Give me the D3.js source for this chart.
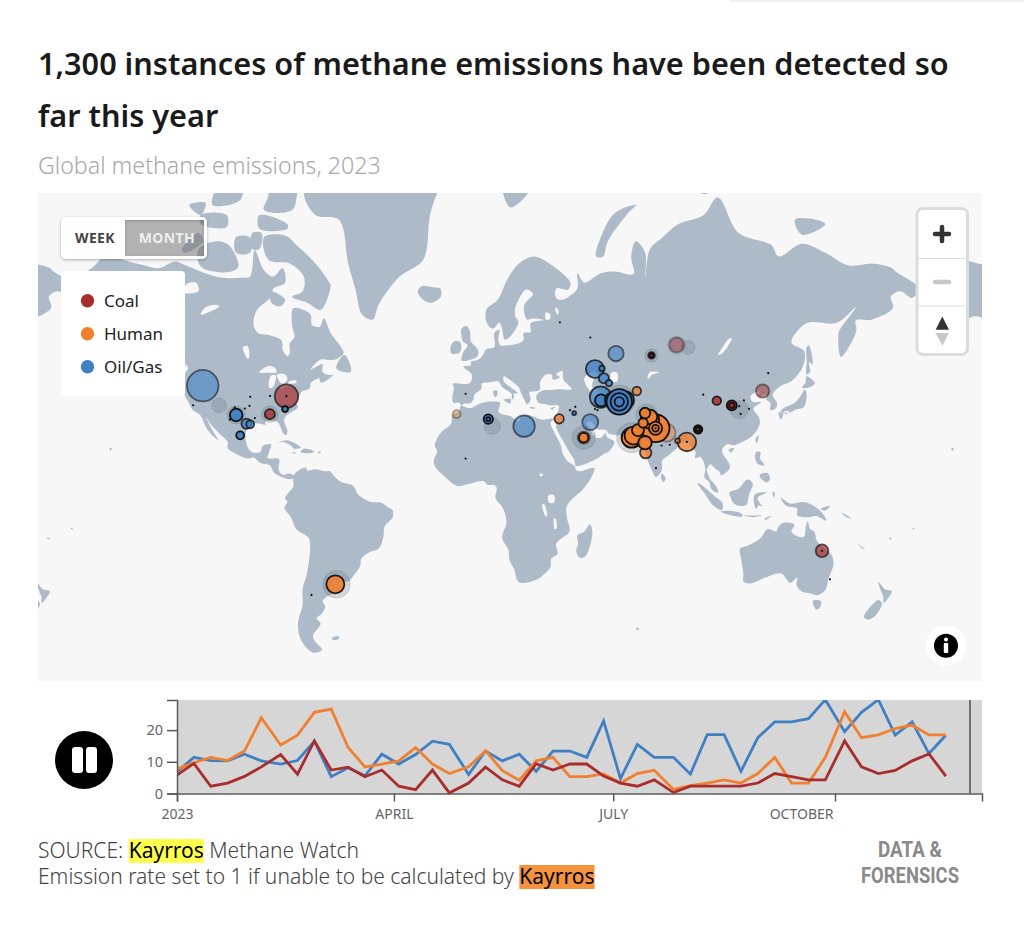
<!DOCTYPE html>
<html>
<head>
<meta charset="utf-8">
<script src="https://cdnjs.cloudflare.com/ajax/libs/d3/7.8.5/d3.min.js"></script>
<style>
  html, body { margin: 0; padding: 0; background: #fff; }
  svg { display: block; }
  text { font-family: "Noto Sans", sans-serif; }
</style>
</head>
<body>
<div id="chart"></div>
<script>
// weekly counts
const weekDay = [0,7,14,21,28,35,43,50,57,64,71,78,85,92,99,106,113,121,128,135,142,149,156,163,170,177,184,191,198,206,213,220,227,234,241,248,255,262,269,277,284,291,298,305,312,319];
const oilGasWeekly = [6.8,11.4,10.4,10.3,12.4,10.3,9.3,10.4,16.5,5.3,8.1,5.6,12.4,9.3,12.3,16.5,15.5,6,13.4,10.3,12.4,7,13.4,13.4,11.4,22.9,4.7,15.5,11.4,11.4,6.1,18.6,18.6,7,17.6,22.6,22.6,23.6,29.6,19.5,25.6,29.6,18.4,22.6,12.6,18.4];
const humanWeekly = [7.7,9.7,11.4,10.4,13.4,23.9,15.3,18.4,25.6,26.6,14.5,8.4,9.3,10.3,14.5,9.3,6.3,8.4,13.5,7.2,4.2,10.3,11.4,5.3,5.3,6.2,3.3,6.3,7.3,1.3,2.5,3.3,4.3,3.3,6.3,11.4,3.3,3.3,11.4,25.8,17.6,18.5,20.5,21.6,18.5,18.5];
const coalWeekly = [5.8,9.5,2.3,3.3,5.4,8.4,12.3,6.1,16.6,7.4,8.3,5.3,7.4,2.3,1.2,7.4,0.2,3.3,8.3,4.3,2.3,9.4,7.4,9.3,9.3,5.5,3.3,2.3,4.3,0.3,2.3,2.3,2.3,2.3,3.3,6.3,5.3,4.3,4.3,16.6,8.4,6.3,7.3,10.3,12.5,5.5];
const yTicks = [0, 10, 20];
const xTickMonths = [0, 3, 6, 9];
const xTickLabels = ["2023", "APRIL", "JULY", "OCTOBER"];
const legendNames = ["Coal", "Human", "Oil/Gas"];

// detections: lon, lat, rate, weeks since detection
const coalEvents = [[-80.4,39.2,113,1.5],[-87.5,33,21,1],[75.7,51.4,9,1],[75.7,51.4,3,0],[86.4,54.1,44,3],[103.6,37.7,15,0.5],[110,36.1,21,0],[110,36.1,6,0],[123.2,40.9,37,2.5],[95.6,27.4,15,0],[95.6,27.4,7,0],[95.6,27.4,3,0],[148.6,-22.8,33,1.5]];
const humanEvents = [[-7.6,33,13,3],[36.2,31.3,18,1],[46.7,24.2,30,2],[46.7,24.2,18,0],[69.4,40.9,15,1],[90.8,22.5,71,1],[86.8,23,4.4,1],[82.1,26.1,67,3],[67.2,24.2,83,0],[68,25,67,0],[73.2,18.2,27,1],[77.4,27.8,160,0],[72.9,22.2,37,0],[69.9,27.1,30,0],[75,31,70,0],[75,32,44,0],[72.9,33.4,23,0],[72.1,29.8,18,0],[77.4,27.8,36,0],[77.4,27.8,9,0],[-59.5,-35.3,67,0.3]];
const oilGasEvents = [[-116.2,42.6,204,2],[-81,34.8,7,0],[-101.9,32.7,33,0],[-97.5,29.5,21,1],[-95.9,29.3,13,1],[-100.2,25.1,13,0],[5.9,31.2,18,0],[5.9,31.2,3.3,0],[21.2,28.6,95,2],[42.6,33.4,3.3,1],[49.5,30.1,53,2],[60.5,51.9,49,2],[51.5,47.6,67,1],[54.5,47.8,6,1],[55.3,44.9,21,1],[57.5,43.4,9,1],[53.9,38.9,95,1],[54.1,37.8,30,0],[59.2,37.9,53,0],[64.3,37.9,67,0],[61.9,37.3,133,0],[61.9,37.3,63,0],[61.9,37.3,18,0]];
const fadedEvents = [[-109.2,36.1,44],[-101.9,32.7,67],[-87.5,33,57],[7.6,28.6,57],[46.7,24.2,113],[67.2,24.2,186],[73.6,32.8,95],[75.7,51.4,37],[86.4,54.1,67],[91.4,53.5,40],[113.2,34.6,67],[-59,-35.3,155],[62.2,37.9,186]];
// rate set to 1 by the source
const unknownRateLon = [-120.3,-95.9,-87.4,-96.2,-93.9,-3.8,-3.8,-104.6,-102.5,-98.2,36.5,49.5,40.8,43.1,51.5,52.6,97.8,115.2,113.2,113.8,117.4,125.6,80,83.5,77.6,-69.7,152,-80.4,148.6,90.8,77.4];
const unknownRateLat = [36.1,39,39.3,35.9,31.6,40,15.8,31,35.4,35,59.4,55.9,34.4,35.6,34.8,34.4,39.7,37.8,35.8,33.1,34.9,46.4,21.1,21.4,11.8,-38.9,-33.5,39.2,-22.8,22.5,27.8];

// land outlines, lon/lat
const northAmerica = [[-168,65.6],[-164,66.5],[-162,66.2],[-166.5,68.3],[-163,69.5],[-156.5,71.3],[-150,70.5],[-141,69.7],[-135,69.3],[-128,70.3],[-124,69.8],[-115,68.5],[-108,67.8],[-100,67.8],[-96,68],[-94,71.8],[-90,69],[-86,68],[-82,69.3],[-81,67],[-86,66],[-87,64.5],[-93,62],[-94.5,59],[-92.5,57],[-88,56.5],[-82.5,55.2],[-82,52.8],[-80,51.2],[-79,52],[-79,54.5],[-77,56],[-78,58.7],[-77.5,62.3],[-73,62],[-70,61],[-69.5,58.8],[-66,58.5],[-64.5,60.3],[-61.5,57],[-57,53.5],[-56,52],[-60,50.2],[-66,50.2],[-70,47.5],[-65,49],[-65,48],[-64.8,46.5],[-61,45.8],[-60,46],[-65.5,43.5],[-66.5,45],[-67,44.8],[-70,43.5],[-70.5,41.7],[-74,40.6],[-75.5,38],[-76,36.9],[-75.6,35.3],[-78,33.9],[-81,32],[-81.4,30.5],[-80,26.8],[-80.5,25.2],[-81.8,26],[-82.8,28],[-84,30],[-86,30.4],[-89.5,30.2],[-89.3,29.1],[-91.5,29.5],[-94,29.6],[-97.3,27.5],[-97.7,22.5],[-96,19],[-94.5,18.2],[-91.5,18.6],[-90.5,21],[-87,21.5],[-87.8,18.5],[-88.5,16],[-84,15.8],[-83.4,15],[-83.7,11],[-82,9],[-79.5,9.6],[-77.3,8.6],[-78,7.3],[-80.3,7.4],[-83,8.3],[-85.8,10],[-87.5,13],[-91.5,14],[-94.5,16.2],[-97,15.8],[-101.5,17.5],[-105.5,20],[-105.5,22.5],[-109,25.7],[-112.5,29],[-114.8,31.8],[-112,27],[-109.5,23.2],[-112,25],[-115,28.5],[-117.2,32.6],[-120.5,34.5],[-122.5,37.5],[-124.3,40.3],[-124,46],[-122.5,48],[-125,50],[-128,52],[-130.3,54.8],[-133.5,58],[-138,59.2],[-146,60.7],[-151.5,59.3],[-153.5,59],[-158,56.5],[-164,54.6],[-158.5,58.5],[-162,59],[-165.5,61.5],[-164,63.2],[-161,64.5],[-166,64.6]];
const southAmerica = [[-77.3,8.6],[-75.5,10.7],[-72,12],[-71.5,10.8],[-68,11.4],[-64,10.5],[-61.8,10.5],[-60,8.4],[-57,6],[-52,4.5],[-50,1],[-48,-0.7],[-44,-2.6],[-40,-2.8],[-37,-4.8],[-35,-6],[-35,-9],[-38.5,-13],[-39,-17.5],[-41,-22],[-44.5,-23.2],[-48.5,-26],[-48.8,-28.5],[-52,-32.5],[-53.5,-34],[-57,-34.5],[-58.4,-34],[-57,-36.5],[-58,-38.3],[-62,-39],[-65,-41],[-63.8,-42.5],[-65.5,-45],[-67.5,-46.3],[-65.8,-47.8],[-69,-51],[-68.4,-52.5],[-65.2,-54.8],[-69,-55.5],[-74,-52.5],[-75.5,-48],[-73.5,-42],[-73.5,-37],[-71.5,-31],[-70.3,-20],[-71,-17.5],[-76.2,-14],[-78.5,-9],[-81.3,-5],[-80,-2.5],[-81,-1],[-79.5,1.5],[-77.5,4],[-77.5,7]];
const africa = [[-5.9,35.8],[-2,35.1],[3,36.9],[10,37.3],[11,36.9],[10.2,34],[11,33.2],[15.2,32.3],[19,30.3],[20,32.5],[23,32.7],[29,31],[32.3,31.3],[34.2,31.3],[32.5,29.9],[34,26.5],[37,21],[37.5,18.5],[39.5,15],[43,12.5],[43.2,11.5],[44.5,10.5],[51.2,11.9],[50,8],[46,2.5],[41,-2],[39.3,-5],[39.5,-9],[40.6,-15],[37,-18],[34.9,-20],[35.5,-24],[32.8,-26],[32.5,-29],[30,-31.5],[26,-33.9],[20,-34.8],[18.4,-34],[17,-30],[15,-26.5],[14.5,-22.5],[11.8,-17.5],[13.7,-11],[12,-5],[9,-1],[9.5,3.5],[8.5,4.7],[5.5,4.8],[4,6.3],[-3,5],[-7.5,4.3],[-13,8.5],[-16.7,12.2],[-17.5,14.7],[-16,19],[-17,21],[-14.5,26],[-10,29.5],[-9.5,32.5],[-6.5,34.2]];
const eurasia = [[-5.5,36],[-6.5,37],[-9,37],[-9.5,38.7],[-8.8,42],[-9.2,43.2],[-2,43.4],[-1.2,46],[-4.7,48.3],[-1.5,48.7],[-1.5,49.6],[1.5,50.2],[3.5,51.4],[5,53],[8.5,53.6],[8.5,57],[10.6,57.7],[10.2,55.5],[11,54],[14,54],[19,54.5],[21,55.3],[21,57],[24,57.2],[24,59.2],[29.5,59.9],[25,60.2],[22.5,60],[21.5,61],[21.3,63],[25,65],[22,65.8],[17.5,62.5],[17.5,60.6],[18.8,59.5],[16.5,57],[14.5,55.8],[13,55.4],[11.5,58.5],[10.5,59.3],[8,58],[5.5,59],[5,62],[10,64],[14,67.5],[19,70],[25.5,71],[31,70.2],[41,67],[40,65.8],[35,66],[35,64.2],[38,64],[40.5,64.6],[44,66],[44,68.5],[47,67],[54,68.5],[60,68.8],[68,68.4],[67,71],[69,73],[73,71.5],[73,68],[75,72],[80.5,73.5],[87,75],[98,76],[104,77.7],[113,74],[127,72.5],[130,71],[140,72.7],[150,71.5],[160,69.7],[170,70],[178,69.4],[180,68.8],[190,66],[187,64.3],[182,65.5],[178,64.5],[179,62.4],[170,60],[163,59.8],[163.3,58],[162.5,56.2],[156.7,51],[155.5,56],[156,57.5],[163,62.5],[155,59.3],[142,59.2],[135.5,54.7],[141,52.5],[140.5,48.5],[135.5,44],[130.8,42.5],[127.5,39.7],[129.3,37],[129,35.2],[126.5,34.5],[126.5,37],[124.8,38],[125,39.7],[121.5,39],[121.7,40.8],[118,39.2],[119,37.3],[122.5,37.2],[119.3,35],[121.8,31.5],[121.8,29],[119,25],[114,22.3],[110.5,21.2],[108,21.6],[105.8,19],[109,13.5],[109,11.5],[105.3,8.8],[105,10],[102.5,12],[100.9,13.4],[99.3,11],[100,9],[100.5,7.5],[103.5,4],[104.2,1.4],[101.5,2.7],[100.3,6],[98.3,8],[98.7,11.5],[97.7,15],[96.5,16.5],[94.3,16],[94.5,18.5],[92.3,20.8],[91,22.5],[88,21.7],[86.5,20],[82.3,16.6],[80.2,15],[80.2,13],[79.8,10.3],[77.5,8.1],[76,10.5],[74.5,14],[72.8,19],[72.7,21],[70.3,20.9],[69,22.3],[70.3,23],[68,23.8],[66.7,25.3],[61.5,25.1],[57.3,25.8],[56.5,27],[52.6,27.5],[50,30.2],[48,30],[48.5,28.5],[50,26.5],[51,24.8],[51.5,26],[51.7,24.3],[54,24.2],[56.2,26],[56.5,24.5],[59.8,22.5],[57.8,19],[55,17.5],[52,15.6],[45,12.8],[43.3,12.8],[42.7,15],[39,21],[35,28],[34.9,29.5],[34.2,31.3],[35.5,33.5],[36,36],[32.5,36.1],[30.5,36.5],[27.3,37],[26.5,39.5],[29,41],[31.5,41.2],[36,41.5],[41.5,41.5],[38,44.5],[37.5,47],[35,46],[36.5,45.2],[33.5,44.5],[33,46],[30.5,46],[28,43.5],[28,41.5],[26,40.8],[23.5,40.5],[24,38],[22.5,36.5],[21,38.5],[19.5,41],[19,42],[14,45],[12.5,45.5],[12.5,44],[16,41.8],[18.5,40.2],[16.8,40],[17,39],[16,38],[15.8,40],[12,42],[10,44],[7,43.7],[3.2,43.3],[3,41.7],[0,39.7],[-0.5,38],[-2,36.8],[-4.5,36.7]];
const australia = [[113.5,-22],[114,-26],[115,-31.5],[115,-34.3],[118,-35],[124,-33],[129,-31.5],[131.5,-31.5],[135,-34.8],[138,-33],[137.7,-35.5],[140,-37.8],[144,-38.5],[146.4,-39],[150,-37.3],[151.3,-33.5],[153.5,-28],[153,-25],[150.7,-22.5],[146.5,-19],[145.3,-15],[143.5,-14],[142.5,-10.8],[141.6,-13],[141,-17],[139,-17.3],[135.5,-15],[136.8,-12.2],[132.5,-11.3],[130,-13],[129,-15],[125.5,-14],[122,-18],[117,-20.7]];
const greenland = [[-73,78.3],[-68,76],[-58,75.5],[-54,70],[-51,66],[-48,61],[-43.5,60],[-41,63],[-32,68],[-22,70.5],[-19,76],[-12,81.5],[-30,83.5],[-50,82.5],[-62,81.5]];
const islands = [
  [[-61.5,66.5],[-64,63],[-66,62],[-72,63.5],[-78,64.5],[-73.5,65.5],[-73,68],[-79,70],[-88,70.5],[-90,73.5],[-81,73.7],[-76,72.5],[-68,70],[-62,67]],
  [[-117,69.5],[-105,68.7],[-101,69.5],[-105,72.5],[-110,73],[-118,72]],
  [[-125,72],[-118,74],[-116,73],[-124,71.5]],
  [[-90,76.5],[-78,76.5],[-75,78.5],[-65,81],[-62,82.5],[-75,83],[-90,81.5],[-88,78]],
  [[-95,81],[-88,81],[-87,79],[-93,78.5]],
  [[-110,78.5],[-100,79],[-100,77.5],[-112,77]],
  [[-122,77],[-115,77.2],[-117,76]],
  [[-92,76],[-80,75],[-80,74.5],[-92,74.5]],
  [[-117,76],[-106,76],[-106,74.7],[-117,75]],
  [[-102,73.5],[-96,73.5],[-96,71.5],[-102,71.5]],
  [[-95,74],[-91,74],[-92,72],[-95,72]],
  [[-87,65.5],[-81,64],[-83,62.7],[-87,63.5]],
  [[-59,47.7],[-53,46.7],[-53,48.5],[-55.5,51.5],[-57.5,50.5]],
  [[-128.5,50.7],[-125,50],[-123.4,48.4],[-125.5,48.8]],
  [[-85,21.9],[-80,23.2],[-74.2,20.2],[-77.5,19.9],[-78,20.7],[-82,22.5]],
  [[-74.4,18.5],[-72.8,19.9],[-68.4,18.6],[-71,18]],
  [[-78.3,18.4],[-76.3,18.2],[-77,17.8]],
  [[-67.2,18.5],[-65.6,18.4],[-66.5,17.9]],
  [[-24.3,65.5],[-22,64],[-18.7,63.4],[-14.5,64.5],[-14.6,66],[-18,66.2],[-22.5,66.4]],
  [[-61,-51.8],[-58,-51.3],[-58,-52],[-60.5,-52.3]],
  [[49.3,-12],[50.4,-15.5],[47.5,-24.8],[45,-25.5],[43.5,-23],[44.3,-20],[44,-16.5],[47,-15]],
  [[-5.5,50],[1.3,51.2],[1.5,52.8],[-1.5,55],[-2,57.5],[-3.5,58.6],[-5.5,58],[-5,55],[-3,54],[-5,52]],
  [[-10,52],[-6.2,52.2],[-6,54.7],[-8.5,55],[-10,54]],
  [[12,79],[20,80.3],[25,79],[18,77],[15,76.8]],
  [[52,71],[55,71],[57,73],[65,76],[69,77],[60,76.2],[54,73.5]],
  [[92,79.5],[100,81],[105,79],[98,78]],
  [[137,75.5],[146,75.5],[150,75],[140,73.8]],
  [[12.5,38],[15.5,38.2],[15.2,36.7]],
  [[8.2,41],[9.7,41],[9.5,39.2],[8.5,39]],
  [[23.6,35.5],[26.3,35.2],[24.5,34.9]],
  [[32.4,35],[34.5,35.6],[33.5,34.7]],
  [[80,9.6],[81.8,7.5],[80.6,6],[79.8,7.5]],
  [[108.7,19.5],[111,20],[109.5,18.2]],
  [[121.5,25.2],[120.8,22],[120.1,23.5]],
  [[130.9,34],[135,33.6],[136.8,34.5],[140.8,35.5],[142,39.5],[141.2,41.4],[140,40],[137,37],[133,35.5]],
  [[130,33.5],[132,33.5],[131,31]],
  [[132.5,34],[134.5,34],[133,33]],
  [[140,42],[143,42],[145.5,43.4],[142,45.5],[141.5,43.5]],
  [[142,46],[143.5,46.8],[143,49.5],[144.5,49],[143,54],[142,53.5],[142,50]],
  [[120.5,18.5],[122.3,18.3],[122,16],[124,13],[121,13.7],[120,16]],
  [[122,9],[125.5,9.7],[126.3,7],[125,5.8],[122.5,7.5]],
  [[95.3,5.5],[98,4],[103.5,-0.8],[106,-3],[105.8,-6],[102,-4],[98.5,1]],
  [[105.3,-6.6],[111,-6.5],[114.5,-7.8],[114.4,-8.7],[108,-7.8]],
  [[109,1.5],[113,3.2],[116.7,7],[119,5.2],[117.5,1],[116,-4],[111,-3.3],[109.5,-0.5]],
  [[120,0.8],[125,1.5],[121,-0.8],[123,-4.5],[121.5,-4],[120.5,-5.5],[119.5,-3]],
  [[115,-8.2],[119,-8.3],[123,-8.2],[119,-9]],
  [[124,-9.7],[127,-8.4],[124.5,-10.2]],
  [[127.5,2],[128.5,1],[128,-0.7],[127.5,0.5]],
  [[131,-0.8],[135,-3.2],[141,-2.6],[147.5,-6],[150.5,-10.5],[146,-8.5],[143,-9],[138,-8.3],[138,-5.5],[133,-4]],
  [[148,-5.5],[152,-4.2],[150,-6.2]],
  [[157,-7],[161,-9.5],[159,-9]],
  [[164,-20],[167,-22.3],[166,-22]],
  [[177.3,-17.5],[178.6,-18],[177.5,-18.2]],
  [[144.7,-40.8],[148.2,-41],[147.5,-43.2],[146,-43.5]],
  [[172.7,-34.5],[175.5,-37],[178.4,-37.7],[176.8,-40],[175,-41.5],[174.8,-39.5],[174,-38]],
  [[172.7,-40.6],[174.2,-41.8],[170.8,-45.9],[168,-46.6],[166.5,-45.8]],
  [[-156,20.2],[-155,19.8],[-155.7,19]],
  [[69,-49],[70.5,-49.2],[69.5,-49.7]],
  [[-172.8,-13.5],[-171.5,-14],[-172.5,-14]]
];
const lakes = [
  [[-92,46.7],[-88,48.5],[-85,47.8],[-84.7,46.6],[-87,46.5]],
  [[-87.8,42],[-86.3,42],[-85,45.8],[-87,45.7]],
  [[-84.5,46],[-81,46],[-80,44.6],[-81.8,43.2],[-83.5,44]],
  [[-83.4,41.6],[-79,42.8],[-79,43],[-83,42.2]],
  [[-79.7,43.3],[-76.2,43.5],[-76.3,44.2],[-79.3,43.9]],
  [[-99,53.5],[-97,53.8],[-96.3,51],[-97,50.5]],
  [[-117,61],[-109,62.7],[-111,63],[-115,62.5]],
  [[-125,65.3],[-118,65.5],[-119,67],[-123,66.8]],
  [[47,45],[51,47],[53,45.5],[51,44.5],[50.5,42],[53,41],[54,37],[50.5,37.2],[49,38],[49.5,40.5],[47.5,43]],
  [[58.5,46.5],[61,46.5],[61,44],[58.5,44]],
  [[74,45],[75,46.7],[79,46.6],[76,46],[74.5,44.8]],
  [[104,51.5],[106,52],[110,55.7],[109,55.7],[105,52.5]],
  [[31.6,0.3],[34,0.3],[34,-2.8],[31.8,-2.8]],
  [[29,-3.5],[29.8,-3.5],[31,-8.5],[30.3,-8.5]],
  [[34,-9.5],[34.8,-10],[35,-14],[34.3,-14]],
  [[28,9.5],[29,9.5],[29,8.5],[28,8.5]],
  [[30.5,61.5],[32.5,61],[32,60],[30.5,60]],
  [[34.7,62.5],[36,61.8],[35.5,61],[34.8,61.5]]
];

const coalColor = "#a92d2d", humanColor = "#f08030", oilGasColor = "#3f80c4";
const landColor = "#adbbc9", seaColor = "#f7f7f7";

const svg = d3.select("#chart").append("svg").attr("width", 1024).attr("height", 940);

// header
svg.append("rect").attr("x", 730).attr("y", 0).attr("width", 294).attr("height", 2).attr("fill", "#f3f3f3");
svg.append("text").attr("x", 38).attr("y", 75).attr("font-size", 30.65).attr("font-weight", 600).attr("fill", "#1a1a1a")
    .text("1,300 instances of methane emissions have been detected so");
svg.append("text").attr("x", 38).attr("y", 127).attr("font-size", 30.65).attr("font-weight", 600).attr("fill", "#1a1a1a")
    .text("far this year");
svg.append("text").attr("x", 38).attr("y", 174).attr("font-size", 23.2).attr("font-weight", 300).attr("fill", "#a8a8a8")
    .text("Global methane emissions, 2023");

// map
const map = { x: 38, y: 193, w: 944, h: 488 };
svg.append("clipPath").attr("id", "mapClip").append("rect")
    .attr("x", map.x).attr("y", map.y).attr("width", map.w).attr("height", map.h);
const mapGroup = svg.append("g").attr("clip-path", "url(#mapClip)");
mapGroup.append("rect").attr("x", map.x).attr("y", map.y).attr("width", map.w).attr("height", map.h).attr("fill", seaColor);

const projection = d3.geoMercator().scale(134).translate([474.5, 496]);
const [originX, originY] = projection.translate();
const toRad = Math.PI / 180;
// raw mercator for the coast: the eastern tip of Russia runs past 180
const landPoint = ([lon, lat]) => {
    const p = d3.geoMercatorRaw(lon * toRad, lat * toRad);
    return [originX + projection.scale() * p[0], originY - projection.scale() * p[1]];
};
const coast = d3.line().curve(d3.curveCatmullRomClosed.alpha(0.5));
const ringsPath = rings => rings.map(r => coast(r.map(landPoint))).join("");

const landRings = [northAmerica, southAmerica, africa, eurasia, australia, greenland].concat(islands);
const worldWidth = 2 * Math.PI * projection.scale();

[-worldWidth, 0, worldWidth].forEach(dx => {
    const copy = mapGroup.append("g").attr("transform", `translate(${dx},0)`);
    copy.append("path").attr("d", ringsPath(landRings)).attr("fill", landColor);
    copy.append("path").attr("d", ringsPath(lakes)).attr("fill", seaColor);
});

// bubbles
const rScale = d3.scaleSqrt().domain([0, 200]).range([0, 15.6]);
const fillFade = d3.scaleLinear().domain([0, 3]).range([0.95, 0.4]);
const strokeFade = d3.scaleLinear().domain([0, 3]).range([1, 0.35]);

mapGroup.append("g").selectAll("circle")
    .data(fadedEvents)
    .enter()
    .append("circle")
    .attr("cx", d => projection(d)[0])
    .attr("cy", d => projection(d)[1])
    .attr("r", d => rScale(d[2]))
    .attr("fill", "#5c6670")
    .attr("fill-opacity", 0.22)
    .attr("stroke", "#5c6670")
    .attr("stroke-opacity", 0.2);

const allEvents = []
    .concat(coalEvents.map(d => ({ v: d, color: coalColor })))
    .concat(humanEvents.map(d => ({ v: d, color: humanColor })))
    .concat(oilGasEvents.map(d => ({ v: d, color: oilGasColor })));
// oldest first
allEvents.sort((a, b) => (b.v[3] - a.v[3]));

mapGroup.append("g").selectAll("circle")
    .data(allEvents)
    .enter()
    .append("circle")
    .attr("cx", d => projection(d.v)[0])
    .attr("cy", d => projection(d.v)[1])
    .attr("r", d => rScale(d.v[2]))
    .attr("fill", d => d.color)
    .attr("fill-opacity", d => fillFade(d.v[3]))
    .attr("stroke", "#111")
    .attr("stroke-width", 1.8)
    .attr("stroke-opacity", d => strokeFade(d.v[3]));

mapGroup.append("g").selectAll("circle")
    .data(unknownRateLon)
    .enter()
    .append("circle")
    .attr("cx", (d, i) => projection([d, unknownRateLat[i]])[0])
    .attr("cy", (d, i) => projection([d, unknownRateLat[i]])[1])
    .attr("r", rScale(1))
    .attr("fill", "#111");

// week / month switch, the map shows through the month half
svg.append("filter").attr("id", "soft").attr("x", "-20%").attr("y", "-20%").attr("width", "140%").attr("height", "140%")
    .append("feDropShadow").attr("dx", 0).attr("dy", 1).attr("stdDeviation", 1.5).attr("flood-color", "#000").attr("flood-opacity", 0.3);
const toggle = svg.append("g");
toggle.append("path")
    .attr("d", "M66 217h136a5 5 0 0 1 5 5v32a5 5 0 0 1 -5 5h-136a5 5 0 0 1 -5 -5v-32a5 5 0 0 1 5 -5zM125 220v36h79v-36z")
    .attr("fill-rule", "evenodd").attr("fill", "#fff").attr("filter", "url(#soft)");
toggle.append("rect").attr("x", 125).attr("y", 220).attr("width", 79).attr("height", 36).attr("fill", "#6e6e6e").attr("fill-opacity", 0.5);
toggle.append("text").attr("x", 95).attr("y", 243).attr("text-anchor", "middle").attr("font-size", 14).attr("font-weight", 700)
    .attr("letter-spacing", 0.4).attr("fill", "#444").text("WEEK");
toggle.append("text").attr("x", 167).attr("y", 243).attr("text-anchor", "middle").attr("font-size", 14).attr("font-weight", 700)
    .attr("letter-spacing", 0.4).attr("fill", "#eee").text("MONTH");

// legend
const legend = svg.append("g");
legend.append("rect").attr("x", 61).attr("y", 271).attr("width", 124).attr("height", 125).attr("rx", 4).attr("fill", "#fff");
const legendColors = [coalColor, humanColor, oilGasColor];
legendNames.forEach((name, i) => {
    legend.append("circle").attr("cx", 87.5).attr("cy", 300.7 + i * 33).attr("r", 6.7).attr("fill", legendColors[i]);
    legend.append("text").attr("x", 104).attr("y", 306.5 + i * 33).attr("font-size", 17).attr("fill", "#222").text(name);
});

// zoom control
const zoomBox = svg.append("g");
zoomBox.append("rect").attr("x", 917).attr("y", 208.5).attr("width", 50.5).attr("height", 146).attr("rx", 6)
    .attr("fill", "#fff").attr("stroke", "#dcdcdc").attr("stroke-width", 3);
zoomBox.append("line").attr("x1", 918).attr("x2", 967).attr("y1", 258.5).attr("y2", 258.5).attr("stroke", "#ddd");
zoomBox.append("line").attr("x1", 918).attr("x2", 967).attr("y1", 306).attr("y2", 306).attr("stroke", "#ddd");
zoomBox.append("path").attr("d", "M942 227v14M935 234h14").attr("stroke", "#333").attr("stroke-width", 4.5).attr("stroke-linecap", "round").attr("fill", "none");
zoomBox.append("path").attr("d", "M935 282h14").attr("stroke", "#c8c8c8").attr("stroke-width", 4.5).attr("stroke-linecap", "round");
zoomBox.append("path").attr("d", "M942.3 316.5l6.7 13.2h-13.4z").attr("fill", "#333");
zoomBox.append("path").attr("d", "M935.6 333h13.4l-6.7 12.7z").attr("fill", "#c8c8c8");

// info button
svg.append("circle").attr("cx", 946).attr("cy", 645.7).attr("r", 20).attr("fill", "#fff");
svg.append("circle").attr("cx", 946).attr("cy", 645.7).attr("r", 12).attr("fill", "#000");
svg.append("circle").attr("cx", 946).attr("cy", 639.5).attr("r", 2).attr("fill", "#fff");
svg.append("rect").attr("x", 943.8).attr("y", 643).attr("width", 4.4).attr("height", 10).attr("rx", 1).attr("fill", "#fff");

// pause button
svg.append("circle").attr("cx", 84).attr("cy", 760).attr("r", 29).attr("fill", "#000");
svg.append("rect").attr("x", 72).attr("y", 747).attr("width", 11).attr("height", 26).attr("rx", 3).attr("fill", "#fff");
svg.append("rect").attr("x", 86).attr("y", 747).attr("width", 11).attr("height", 26).attr("rx", 3).attr("fill", "#fff");

// timeline
const timeStart = new Date(2023, 0, 1);
const plot = { left: 177, right: 982, top: 700, bottom: 793.5 };
const x = d3.scaleTime().domain([timeStart, new Date(2023, 11, 1)]).range([plot.left, plot.right]);
const y = d3.scaleLinear().domain([0, 29.5]).range([plot.bottom, plot.top]);
const weekDates = weekDay.map(d => d3.timeDay.offset(timeStart, d));

svg.append("rect").attr("x", plot.left).attr("y", plot.top).attr("width", plot.right - plot.left)
    .attr("height", plot.bottom - plot.top).attr("fill", "#d6d6d6");

const line = d3.line().x((d, i) => x(weekDates[i])).y(d => y(d));
svg.append("clipPath").attr("id", "plotClip").append("rect")
    .attr("x", plot.left).attr("y", plot.top).attr("width", plot.right - plot.left).attr("height", plot.bottom - plot.top + 2);
const lineGroup = svg.append("g").attr("clip-path", "url(#plotClip)");
[[oilGasWeekly, oilGasColor], [humanWeekly, humanColor], [coalWeekly, coalColor]].forEach(s => {
    lineGroup.append("path").attr("d", line(s[0])).attr("fill", "none").attr("stroke", s[1])
        .attr("stroke-width", 2.8).attr("stroke-linejoin", "miter");
});

svg.append("line").attr("x1", 970).attr("x2", 970).attr("y1", plot.top).attr("y2", plot.bottom)
    .attr("stroke", "#555").attr("stroke-width", 1.6);

const xTicks = xTickMonths.map(m => new Date(2023, m, 1));
const xAxis = svg.append("g")
    .attr("transform", `translate(0,${plot.bottom})`)
    .call(d3.axisBottom(x).tickValues(xTicks).tickSize(8).tickSizeOuter(8).tickFormat((d, i) => xTickLabels[i]));
const yAxis = svg.append("g")
    .attr("transform", `translate(${plot.left},0)`)
    .call(d3.axisLeft(y).tickValues(yTicks).tickSize(10).tickSizeOuter(10));
[xAxis, yAxis].forEach(a => {
    a.selectAll("path, line").attr("stroke", "#5a5a5a").attr("stroke-width", 1.5);
    a.selectAll("text").attr("fill", "#666").attr("font-family", "Noto Sans, sans-serif");
});
xAxis.selectAll("text").attr("font-size", 14).attr("dy", "1.05em");
yAxis.selectAll("text").attr("font-size", 14.5).attr("dx", "-1px");
// last label sits to the left of its tick
xAxis.selectAll("text").filter(d => d.getMonth() === 9).attr("text-anchor", "end").attr("dx", "-2px");

// footer
const sourceLine = svg.append("text").attr("x", 38).attr("y", 858).attr("font-size", 21).attr("font-weight", 300).attr("fill", "#444");
const noteLine = svg.append("text").attr("x", 38).attr("y", 884).attr("font-size", 21).attr("font-weight", 300).attr("fill", "#444");
sourceLine.append("tspan").text("SOURCE: ");
const hl1 = sourceLine.append("tspan").attr("fill", "#000").attr("font-weight", 400).text("Kayrros");
sourceLine.append("tspan").text(" Methane Watch");
noteLine.append("tspan").text("Emission rate set to 1 if unable to be calculated by ");
const hl2 = noteLine.append("tspan").attr("fill", "#000").attr("font-weight", 400).text("Kayrros");
// highlight boxes go behind the words
[[hl1, "#ffff4d", sourceLine], [hl2, "#f5923e", noteLine]].forEach(h => {
    const t = h[0].node();
    const first = t.getStartPositionOfChar(0).x;
    const width = t.getComputedTextLength();
    const base = +h[2].attr("y");
    svg.insert("rect", () => h[2].node()).attr("x", first).attr("y", base - 19).attr("width", width).attr("height", 24).attr("fill", h[1]);
});

svg.append("text").attr("x", 910).attr("y", 856.5).attr("text-anchor", "middle").attr("style", "font-family:Roboto,sans-serif")
    .attr("font-size", 22.5).attr("font-weight", 700).attr("fill", "#8a8a8a")
    .attr("textLength", 64).attr("lengthAdjust", "spacingAndGlyphs").text("DATA &");
svg.append("text").attr("x", 910).attr("y", 883).attr("text-anchor", "middle").attr("style", "font-family:Roboto,sans-serif")
    .attr("font-size", 22.5).attr("font-weight", 700).attr("fill", "#8a8a8a")
    .attr("textLength", 98).attr("lengthAdjust", "spacingAndGlyphs").text("FORENSICS");
</script>
</body>
</html>
